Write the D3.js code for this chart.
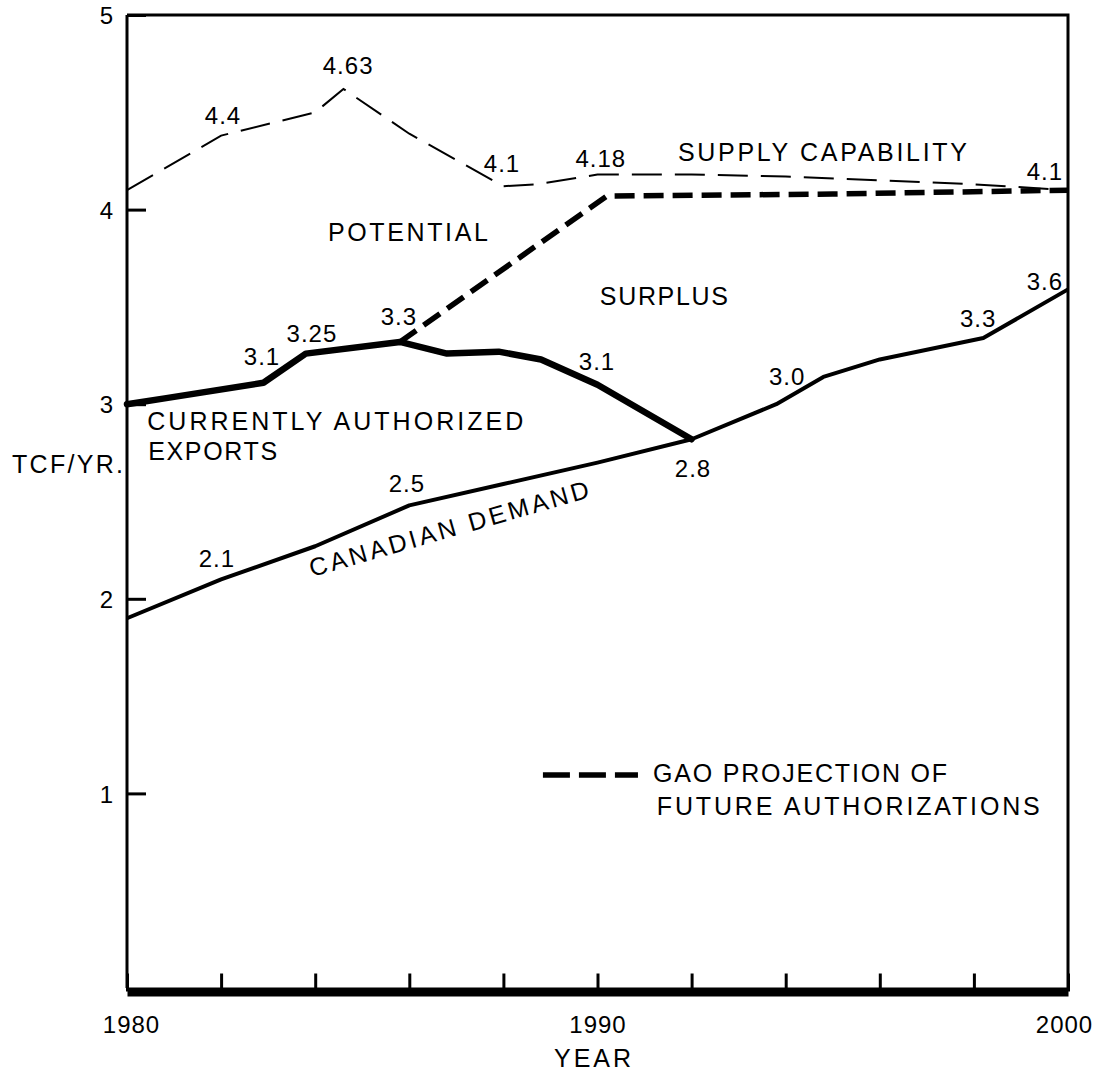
<!DOCTYPE html>
<html><head><meta charset="utf-8">
<script src="https://cdn.jsdelivr.net/npm/d3@7"></script>
<style>
body{margin:0;background:#fff;}
svg{display:block;}
text{font-family:"Liberation Sans",Arial,Helvetica,sans-serif;fill:#000;}
</style></head><body>
<svg id="c" width="1095" height="1072"></svg>
<script>
// ---- data ----
const supplyYears  = [1980, 1982, 1984, 1984.6, 1986, 1988, 1988.7, 1990, 1992, 1994, 1996, 1998, 2000];
const supplyValues = [4.10, 4.38, 4.50, 4.62, 4.39, 4.12, 4.13, 4.18, 4.18, 4.17, 4.15, 4.13, 4.10];

const exportYears  = [1980, 1980.8, 1982.9, 1983.8, 1985.8, 1986.8, 1987.9, 1988.8, 1990, 1992];
const exportValues = [3.00, 3.03, 3.11, 3.26, 3.32, 3.26, 3.27, 3.23, 3.10, 2.82];

const gaoYears  = [1985.8, 1990.2, 1995, 2000];
const gaoValues = [3.32, 4.07, 4.08, 4.10];

const demandYears  = [1980, 1982, 1984, 1986, 1988, 1990, 1992, 1993.8, 1994.8, 1996, 1998.2, 2000];
const demandValues = [1.90, 2.10, 2.27, 2.48, 2.59, 2.70, 2.82, 3.00, 3.14, 3.23, 3.34, 3.59];

const yTickValues = [1, 2, 3, 4, 5];
const xTickValues = [1980, 1982, 1984, 1986, 1988, 1990, 1992, 1994, 1996, 1998, 2000];
const xTickLabels = ["1980", "", "", "", "", "1990", "", "", "", "", "2000"];

// value annotations: text, year, value (anchor = centre of baseline)
const valueLabelText  = ["4.4", "4.63", "4.1", "4.18", "4.1", "3.1", "3.25", "3.3", "3.1", "2.8", "2.5", "2.1", "3.0", "3.3", "3.6"];
const valueLabelYear  = [1982.04, 1984.70, 1987.97, 1990.07, 1999.51, 1982.87, 1983.93, 1985.78, 1989.99, 1992.03, 1985.95, 1981.91, 1994.03, 1998.09, 1999.51];
const valueLabelValue = [4.440, 4.697, 4.193, 4.219, 4.152, 3.201, 3.320, 3.407, 3.176, 2.626, 2.549, 2.163, 3.099, 3.397, 3.587];

// word annotations: text, year, value (anchor = start of baseline)
const wordText  = ["SUPPLY CAPABILITY", "POTENTIAL", "SURPLUS", "CURRENTLY AUTHORIZED", "EXPORTS", "GAO PROJECTION OF", "FUTURE AUTHORIZATIONS"];
const wordYear  = [1991.71, 1984.27, 1990.05, 1980.43, 1980.45, 1991.18, 1991.26];
const wordValue = [4.250, 3.839, 3.510, 2.867, 2.713, 1.059, 0.889];

const demandLabel = "CANADIAN DEMAND";
const demandLabelYear = 1983.93, demandLabelValue = 2.112;

const legendYears = [1988.84, 1990.86];
const legendValue = 1.095;

const yAxisTitle = "TCF/YR.";
const xAxisTitle = "YEAR";

// ---- layout / style ----
const wordWidths = [289, 160, 128, 376, 129, 294, 383];
const svg = d3.select("#c");
const x = d3.scaleLinear().domain([1980, 2000]).range([127, 1068]);
const y = d3.scaleLinear().domain([0, 5]).range([988, 15]);

const line = d3.line().x(d => x(d[0])).y(d => y(d[1]));
const zip = (a, b) => a.map((v, i) => [v, b[i]]);

// frame (top and right)
svg.append("path")
  .attr("d", `M${x(1980)},${y(5)}H${x(2000)}V${y(0)+3}`)
  .attr("fill", "none").attr("stroke", "#000").attr("stroke-width", 3);

// y axis
const yAxis = svg.append("g").attr("transform", `translate(${x(1980)},0)`)
  .call(d3.axisLeft(y).tickValues(yTickValues).tickFormat(d3.format("d"))
        .tickSizeInner(-19).tickSizeOuter(0).tickPadding(14));
yAxis.select(".domain").attr("stroke-width", 3).attr("d", `M0,${y(5)}V${y(0)}`);
yAxis.selectAll(".tick line").attr("stroke-width", 3);
yAxis.selectAll(".tick text").attr("font-size", 24).attr("font-family", null).attr("dy", "0.36em");

// x axis
const xAxis = svg.append("g").attr("transform", `translate(0,${y(0)+3.5})`)
  .call(d3.axisBottom(x).tickValues(xTickValues).tickFormat((d, i) => xTickLabels[i])
        .tickSizeInner(-18).tickSizeOuter(0).tickPadding(24));
xAxis.select(".domain").attr("stroke-width", 9);
xAxis.selectAll(".tick line").attr("stroke-width", 3);
xAxis.selectAll(".tick text").attr("font-size", 24).attr("font-family", null).attr("letter-spacing", 1);
xAxis.selectAll(".tick").filter(d => d === 1980).select("text").attr("dx", 4);
xAxis.selectAll(".tick").filter(d => d === 2000).select("text").attr("dx", -4);

// axis titles
svg.append("text").attr("x", x(1980) - 4).attr("y", y(2.646))
  .attr("text-anchor", "end").attr("font-size", 25)
  .attr("textLength", 111).attr("lengthAdjust", "spacing").text(yAxisTitle);
svg.append("text").attr("x", x(1990) - 5).attr("y", y(0) + 79)
  .attr("text-anchor", "middle").attr("font-size", 25)
  .attr("textLength", 77).attr("lengthAdjust", "spacing").text(xAxisTitle);

// series
svg.append("path").datum(zip(supplyYears, supplyValues)).attr("d", line)
  .attr("fill", "none").attr("stroke", "#000").attr("stroke-width", 2)
  .attr("stroke-dasharray", "30,13");
svg.append("path").datum(zip(gaoYears, gaoValues)).attr("d", line)
  .attr("fill", "none").attr("stroke", "#000").attr("stroke-width", 5.5)
  .attr("stroke-dasharray", "20,9");
svg.append("path").datum(zip(demandYears, demandValues)).attr("d", line)
  .attr("fill", "none").attr("stroke", "#000").attr("stroke-width", 4)
  .attr("stroke-linejoin", "round");
svg.append("path").datum(zip(exportYears, exportValues)).attr("d", line)
  .attr("fill", "none").attr("stroke", "#000").attr("stroke-width", 6.5)
  .attr("stroke-linejoin", "round").attr("stroke-linecap", "round");

// value labels
svg.append("g").selectAll("text").data(valueLabelText).join("text")
  .attr("x", (d, i) => x(valueLabelYear[i]))
  .attr("y", (d, i) => y(valueLabelValue[i]))
  .attr("text-anchor", "middle").attr("font-size", 24).attr("letter-spacing", 1)
  .text(d => d);

// word labels
svg.append("g").selectAll("text").data(wordText).join("text")
  .attr("x", (d, i) => x(wordYear[i]))
  .attr("y", (d, i) => y(wordValue[i]))
  .attr("font-size", 25)
  .attr("textLength", (d, i) => wordWidths[i]).attr("lengthAdjust", "spacing")
  .text(d => d);

// rotated demand label
svg.append("text")
  .attr("transform", `translate(${x(demandLabelYear)},${y(demandLabelValue)}) rotate(-16)`)
  .attr("font-size", 25).attr("textLength", 290).attr("lengthAdjust", "spacing")
  .text(demandLabel);

// legend swatch
svg.append("path").datum(legendYears.map(v => [v, legendValue])).attr("d", line)
  .attr("fill", "none").attr("stroke", "#000").attr("stroke-width", 5.5)
  .attr("stroke-dasharray", "27,9");
</script>
</body></html>
